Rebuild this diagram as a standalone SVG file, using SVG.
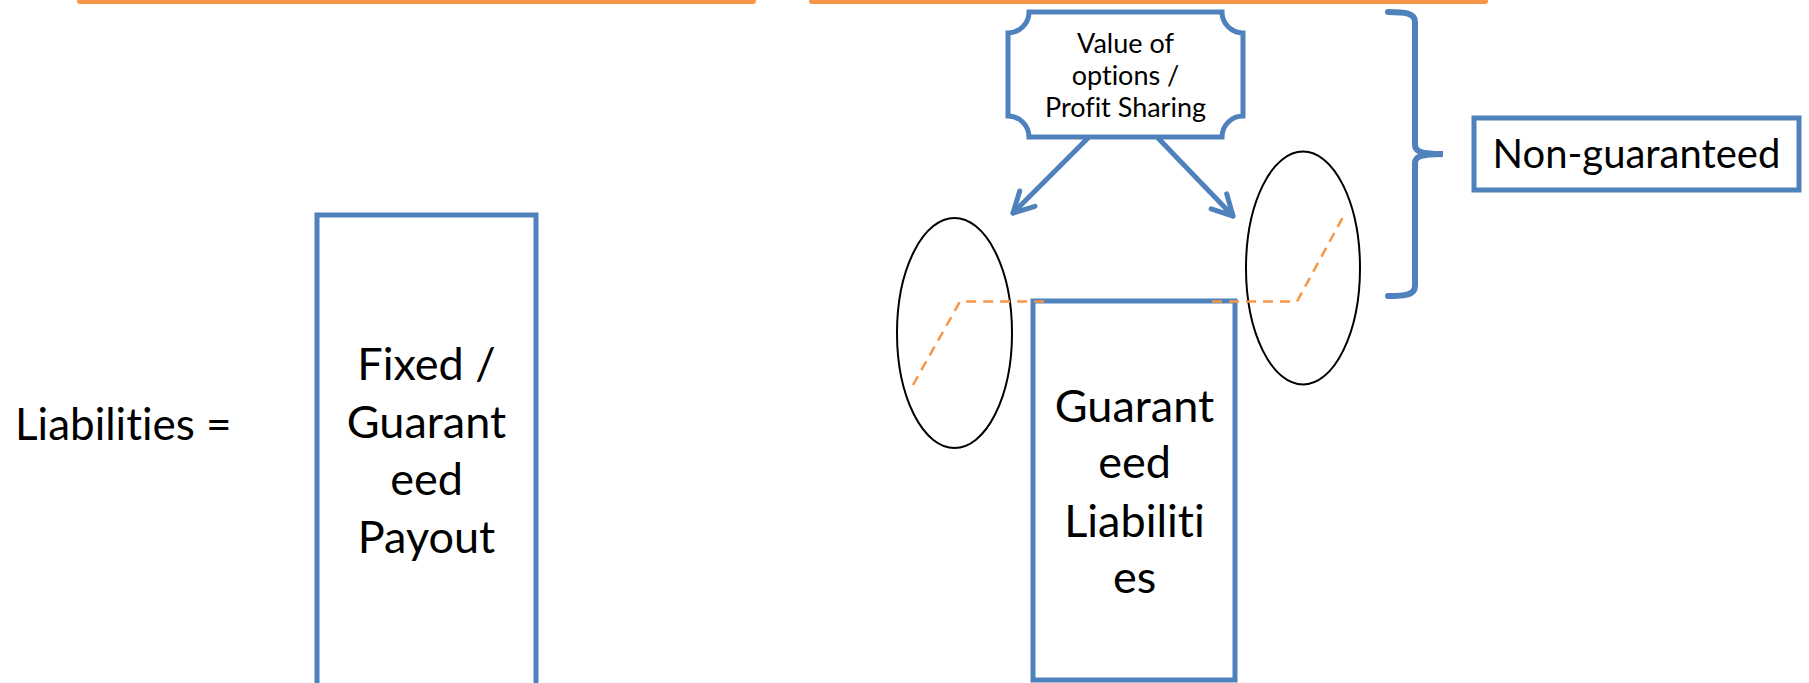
<svg xmlns="http://www.w3.org/2000/svg" width="1809" height="683" viewBox="0 0 1809 683">
<style>
.box{fill:#FFFFFF;stroke:#4F81BD;stroke-width:5}
.lbl{font-family:Lato,"Liberation Sans",sans-serif;fill:#000000;text-anchor:middle;font-variant-ligatures:none;font-feature-settings:"liga" 0}
.ell{fill:none;stroke:#000000;stroke-width:2}
.dash{fill:none;stroke:#F79646;stroke-width:2.5;stroke-dasharray:10 7}
.arrow{fill:none;stroke:#4F81BD;stroke-width:5;stroke-linecap:round}
.bar{fill:#F79646}
</style>
<defs>
<marker id="head" markerUnits="userSpaceOnUse" markerWidth="40" markerHeight="40" viewBox="-30 -20 40 40" refX="0" refY="0" orient="auto" overflow="visible">
<path d="M-20.3,-10.8 L0,0 L-20.3,10.8" fill="none" stroke="#4F81BD" stroke-width="5" stroke-linecap="round" stroke-linejoin="round"/>
</marker>
</defs>
<rect width="1809" height="683" fill="#FFFFFF"/>
<g id="top-bars">
<rect class="bar" x="77" y="-8" width="679" height="12" rx="3"/>
<rect class="bar" x="809" y="-8" width="679" height="12" rx="3"/>
</g>
<g id="liabilities-label">
<text class="lbl" x="15" y="440" font-size="44" style="text-anchor:start">Liabilities =</text>
</g>
<g id="fixed-box">
<rect class="box" x="317" y="215" width="219" height="480"/>
<text class="lbl" font-size="45"><tspan x="426.5" y="380">Fixed /</tspan><tspan x="426.5" y="438">Guarant</tspan><tspan x="426.5" y="495">eed</tspan><tspan x="426.5" y="553">Payout</tspan></text>
</g>
<g id="guaranteed-box">
<rect class="box" x="1033" y="301" width="202" height="379"/>
<text class="lbl" font-size="45"><tspan x="1134.5" y="422">Guarant</tspan><tspan x="1134.5" y="478">eed</tspan><tspan x="1134.5" y="537">Liabiliti</tspan><tspan x="1134.5" y="593">es</tspan></text>
</g>
<g id="value-box">
<path class="box" d="M1029,12 L1222,12 A21,21 0 0 0 1243,33 L1243,116 A21,21 0 0 0 1222,137 L1029,137 A21,21 0 0 0 1008,116 L1008,33 A21,21 0 0 0 1029,12 Z"/>
<text class="lbl" font-size="27"><tspan x="1125.5" y="53">Value of</tspan><tspan x="1125.5" y="85">options /</tspan><tspan x="1125.5" y="117">Profit Sharing</tspan></text>
</g>
<g id="left-ellipse">
<ellipse class="ell" cx="954.5" cy="333" rx="57.5" ry="115"/>
</g>
<g id="right-ellipse">
<ellipse class="ell" cx="1303" cy="268" rx="57" ry="116.5"/>
</g>
<g id="non-guaranteed-box">
<rect class="box" x="1474" y="118" width="325" height="72"/>
<text class="lbl" x="1636.5" y="168" font-size="40">Non-guaranteed</text>
</g>
<g id="connectors">
<line class="arrow" x1="1088" y1="138" x2="1013" y2="213" marker-end="url(#head)"/>
<line class="arrow" x1="1158" y1="138" x2="1233" y2="216" marker-end="url(#head)"/>
<path class="dash" d="M913,385 L960,301.5 L1045,301.5"/>
<path class="dash" d="M1212,301.5 L1297,301.5 L1343,217"/>
<path d="M1388,12 C1405,12 1415,13 1415,22 L1415,145 C1415,151 1420,154 1443,154 C1420,154 1415,157 1415,163 L1415,286 C1415,295 1405,296 1388,296" fill="none" stroke="#4F81BD" stroke-width="6" stroke-linecap="round"/>
</g>
</svg>
